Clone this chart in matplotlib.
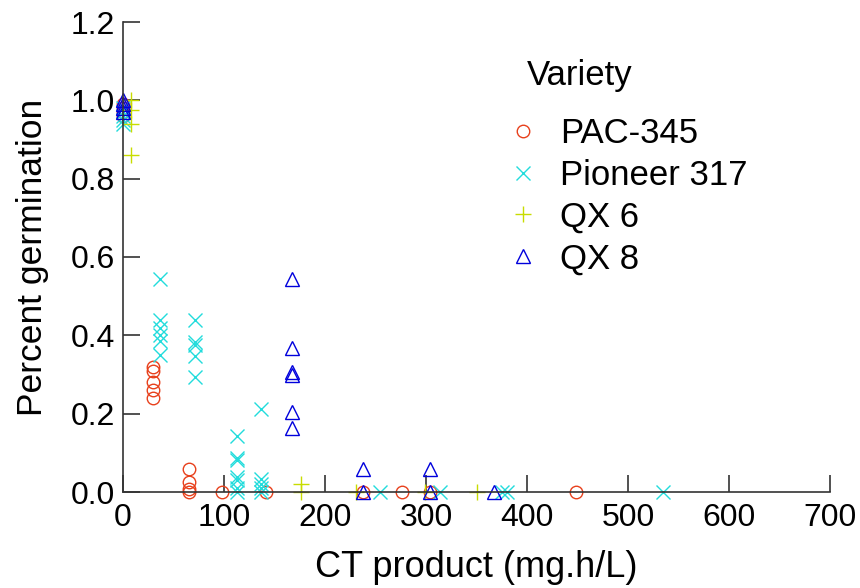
import matplotlib
matplotlib.use("Agg")
import matplotlib.pyplot as plt

plt.rcParams['font.family'] = ['Liberation Sans', 'DejaVu Sans']

# PAC-345 (circles)
pac_x = [0, 0, 0, 0, 30, 30, 30, 30, 30, 65, 65, 65, 65, 98, 142, 238, 276, 304, 449]
pac_y = [0.96, 0.97, 0.98, 0.99, 0.32, 0.31, 0.28, 0.26, 0.24, 0.06, 0.025, 0.008, 0.0,
         0.0, 0.0, 0.0, 0.0, 0.0, 0.0]

# Pioneer 317 (x)
pio_x = [0, 0, 0, 0, 0, 37, 37, 37, 37, 37, 37, 71, 71, 71, 71, 71,
         113, 113, 113, 113, 113, 113, 113, 137, 137, 137, 137, 137,
         254, 314, 375, 380, 535]
pio_y = [0.94, 0.95, 0.96, 0.97, 0.98, 0.545, 0.44, 0.42, 0.40, 0.385, 0.35,
         0.44, 0.383, 0.375, 0.347, 0.294,
         0.142, 0.088, 0.081, 0.038, 0.03, 0.011, 0.0,
         0.212, 0.032, 0.021, 0.011, 0.0,
         0.0, 0.0, 0.0, 0.0, 0.0]

# QX 6 (+)
qx6_x = [8, 8, 8, 8, 176, 176, 231, 299, 350]
qx6_y = [1.0, 0.975, 0.94, 0.86, 0.021, 0.0, 0.0, 0.0, 0.0]

# QX 8 (triangles)
qx8_x = [0, 0, 0, 0, 167, 167, 167, 167, 167, 167, 238, 238, 304, 304, 367]
qx8_y = [1.0, 0.99, 0.98, 0.97, 0.543, 0.368, 0.307, 0.30, 0.203, 0.163,
         0.058, 0.0, 0.058, 0.0, 0.0]

x_ticks = [0, 100, 200, 300, 400, 500, 600, 700]
y_ticks = [0.0, 0.2, 0.4, 0.6, 0.8, 1.0, 1.2]

fig = plt.figure(figsize=(8.6, 5.88), dpi=100)
ax = fig.add_axes([123/860, 1-492/588, (830-123)/860, (492-22)/588])

ax.plot(pac_x, pac_y, 'o', mfc='none', mec='#e8401c', ms=9, mew=1.0, ls='none', label='PAC-345', clip_on=False)
ax.plot(pio_x, pio_y, 'x', color='#22dcdc', ms=9.5, mew=1.0, ls='none', label='Pioneer 317', clip_on=False)
ax.plot(qx6_x, qx6_y, '+', color='#c8dc00', ms=12, mew=1.0, ls='none', label='QX 6', clip_on=False)
ax.plot(qx8_x, qx8_y, '^', mfc='none', mec='#0000dc', ms=10.5, mew=1.0, ls='none', label='QX 8', clip_on=False)

ax.set_xlim(0, 700)
ax.set_ylim(0, 1.2)
ax.set_xticks(x_ticks)
ax.set_yticks(y_ticks)
ax.set_xticklabels([str(v) for v in x_ticks])
ax.set_yticklabels([f"{v:.1f}" for v in y_ticks])

for s in ['top', 'right']:
    ax.spines[s].set_visible(False)
for s in ['left', 'bottom']:
    ax.spines[s].set_linewidth(1.2)
    ax.spines[s].set_color('#333333')

ax.tick_params(direction='in', length=12, width=1.2, color='#333333',
               labelsize=23, pad=8)
ax.tick_params(axis='y', pad=6)

ax.set_xlabel('CT product (mg.h/L)', fontsize=26, labelpad=12)
ax.set_ylabel('Percent germination', fontsize=25.5, labelpad=15)

fig.text(527/860, 1 - 75/588, 'Variety', fontsize=25, ha='left', va='center')

leg = ax.legend(loc='upper left', bbox_to_anchor=(474/860, 1 - 86/588),
                bbox_transform=fig.transFigure, frameon=False, fontsize=25,
                handletextpad=0.58, labelspacing=0.25, handlelength=1.0)

fig.savefig('out.png', dpi=100)
